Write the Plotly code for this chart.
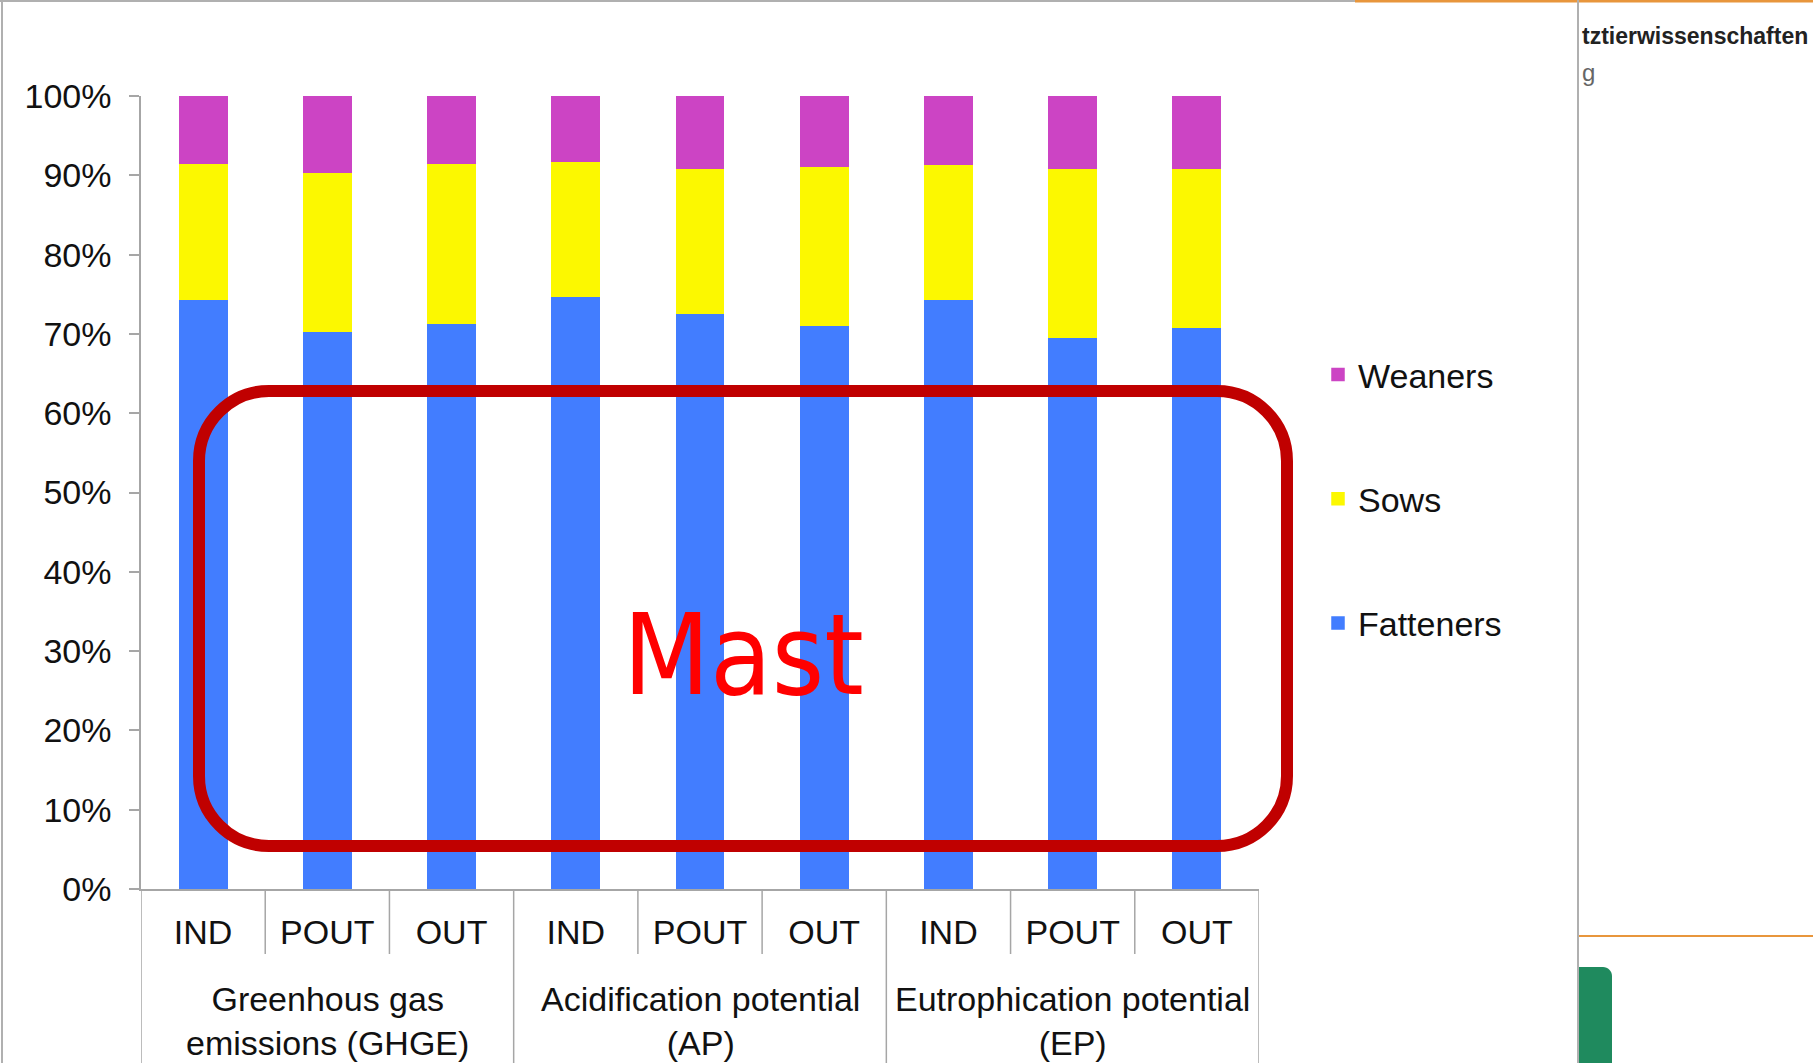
import plotly.graph_objects as go

# ---- data ----
groups = ["Greenhous gas<br>emissions (GHGE)", "Acidification potential<br>(AP)", "Eutrophication potential<br>(EP)"]
systems = ["IND", "POUT", "OUT"]
fatteners = [74.4, 70.3, 71.3, 74.7, 72.6, 71.1, 74.4, 69.6, 70.8]
sows = [17.1, 20.1, 20.2, 17.1, 18.3, 20.1, 17.0, 21.3, 20.1]
weaners = [8.5, 9.6, 8.5, 8.2, 9.1, 8.8, 8.6, 9.1, 9.1]
y_ticks = [0, 10, 20, 30, 40, 50, 60, 70, 80, 90, 100]
y_tick_labels = [f"{v}%" for v in y_ticks]

W, H = 1813, 1063
L, R, T, B = 141, 1259, 96, 889  # plot area in pixels

sub_labels = [s for g in groups for s in systems]
xs = list(range(len(sub_labels)))

FONT = "Liberation Sans, Arial, sans-serif"
AX = "#a6a6a6"

fig = go.Figure()
series = [("Fatteners", fatteners, "#427dff", 3), ("Sows", sows, "#fcf800", 2), ("Weaners", weaners, "#cc44c4", 1)]
for name, vals, col, rank in series:
    fig.add_trace(go.Bar(x=xs, y=vals, name=name, marker=dict(color=col, line=dict(width=1.5, color=col)),
                         legendgroup=name, legendrank=rank))

def px2x(p):
    return (p - L) / (R - L)

def py2y(p):
    return (B - p) / (B - T)

shapes = []
# separators between sub-categories (short) and groups (long)
n = len(systems)
for i in range(len(sub_labels) + 1):
    xb = i - 0.5
    if i % n == 0:
        y1 = py2y(H + 20)
    else:
        y1 = py2y(954)
    shapes.append(dict(type="line", xref="x", yref="paper", x0=xb, x1=xb, y0=0, y1=y1,
                       line=dict(color=AX, width=1.5)))

# red rounded rectangle (annotation frame)
x0p, x1p, y0p, y1p, r = 199, 1287, 391, 846, 70
k = 0.5523 * r
def P(x, y):
    return f"{px2x(x):.5f},{py2y(y):.5f}"
path = (f"M {P(x0p + r, y0p)} L {P(x1p - r, y0p)} "
        f"C {P(x1p - r + k, y0p)} {P(x1p, y0p + r - k)} {P(x1p, y0p + r)} "
        f"L {P(x1p, y1p - r)} "
        f"C {P(x1p, y1p - r + k)} {P(x1p - r + k, y1p)} {P(x1p - r, y1p)} "
        f"L {P(x0p + r, y1p)} "
        f"C {P(x0p + r - k, y1p)} {P(x0p, y1p - r + k)} {P(x0p, y1p - r)} "
        f"L {P(x0p, y0p + r)} "
        f"C {P(x0p, y0p + r - k)} {P(x0p + r - k, y0p)} {P(x0p + r, y0p)} Z")
shapes.append(dict(type="path", xref="paper", yref="paper", path=path,
                   line=dict(color="#c00000", width=12), fillcolor="rgba(0,0,0,0)"))

# slide frame decorations
shapes += [
    dict(type="line", xref="paper", yref="paper", x0=px2x(2), x1=px2x(2), y0=py2y(0), y1=py2y(H),
         line=dict(color="#b0b0b0", width=2)),
    dict(type="line", xref="paper", yref="paper", x0=px2x(0), x1=px2x(1355), y0=py2y(1), y1=py2y(1),
         line=dict(color="#b0b0b0", width=2)),
    dict(type="line", xref="paper", yref="paper", x0=px2x(1355), x1=px2x(W), y0=py2y(1), y1=py2y(1),
         line=dict(color="#e8963c", width=3)),
    dict(type="line", xref="paper", yref="paper", x0=px2x(1578), x1=px2x(1578), y0=py2y(0), y1=py2y(H),
         line=dict(color="#b0b0b0", width=2)),
    dict(type="line", xref="paper", yref="paper", x0=px2x(1579), x1=px2x(W), y0=py2y(936), y1=py2y(936),
         line=dict(color="#e8963c", width=2)),
]
gx0, gx1, gy0, gy1, gr = 1579, 1612, 967, H + 10, 9
gk = 0.5523 * gr
gpath = (f"M {P(gx0, gy0)} L {P(gx1 - gr, gy0)} "
         f"C {P(gx1 - gr + gk, gy0)} {P(gx1, gy0 + gr - gk)} {P(gx1, gy0 + gr)} "
         f"L {P(gx1, gy1)} L {P(gx0, gy1)} Z")
shapes.append(dict(type="path", xref="paper", yref="paper", path=gpath,
                   line=dict(width=0), fillcolor="#1f8a5e"))

annotations = []
for gi, g in enumerate(groups):
    cx = gi * n + (n - 1) / 2
    annotations.append(dict(x=cx, y=py2y(1021), xref="x", yref="paper", text=g, showarrow=False,
                            font=dict(family=FONT, size=34, color="#111"), yanchor="middle",
                            xanchor="center"))
annotations.append(dict(x=px2x(743), y=py2y(655), xref="paper", yref="paper", text="Mast",
                        showarrow=False, xanchor="center", yanchor="middle",
                        font=dict(family="Liberation Sans Narrow, DejaVu Sans Condensed, Arial Narrow, sans-serif",
                                  size=112, color="#ff0000")))
annotations.append(dict(x=px2x(1580), y=py2y(36), xref="paper", yref="paper", text="tztierwissenschaften",
                        showarrow=False, xanchor="left", yanchor="middle",
                        font=dict(family=FONT, size=23, color="#222", weight=600)))
annotations.append(dict(x=px2x(1580), y=py2y(72), xref="paper", yref="paper", text="g",
                        showarrow=False, xanchor="left", yanchor="middle",
                        font=dict(family=FONT, size=24, color="#666")))

fig.update_layout(
    width=W, height=H,
    margin=dict(l=L, r=W - R, t=T, b=H - B, autoexpand=False),
    paper_bgcolor="white", plot_bgcolor="white",
    barmode="stack", bargap=0.618,
    font=dict(family=FONT, size=34, color="#111"),
    showlegend=True,
    legend=dict(x=px2x(1318), y=py2y(346), xanchor="left", yanchor="top",
                traceorder="grouped", tracegroupgap=77,
                font=dict(family=FONT, size=34, color="#111"), bgcolor="rgba(0,0,0,0)"),
    shapes=shapes, annotations=annotations,
    xaxis=dict(range=[-0.5, len(xs) - 0.5], tickmode="array", tickvals=xs, ticktext=sub_labels,
               showline=True, linecolor=AX, linewidth=1.5, ticks="", showgrid=False, zeroline=False,
               tickfont=dict(family=FONT, size=34, color="#111"), ticklabelstandoff=12, fixedrange=True),
    yaxis=dict(range=[0, 100], tickmode="array", tickvals=y_ticks, ticktext=y_tick_labels,
               showline=True, linecolor=AX, linewidth=1.5, ticks="outside", ticklen=10, tickcolor=AX,
               tickwidth=1.5, showgrid=False, zeroline=False,
               tickfont=dict(family=FONT, size=34, color="#111"), ticklabelstandoff=11),
)

fig.write_html("out.html")
